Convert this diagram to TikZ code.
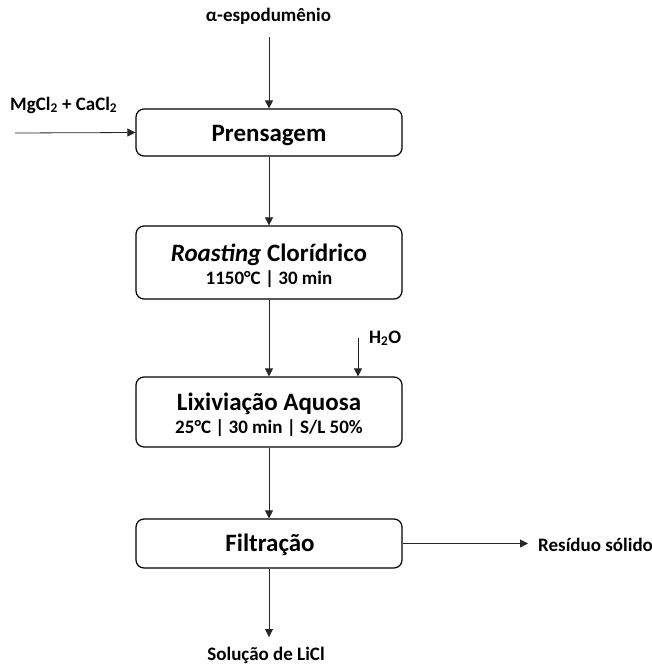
\documentclass[tikz,border=0pt]{standalone}
\usepackage{fontspec}
\setmainfont{Carlito}
\usetikzlibrary{arrows.meta}
\begin{document}
\begin{tikzpicture}[x=1pt,y=-1pt,
  stepbox/.style={draw=black, line width=1.2pt, rounded corners=8pt,
    minimum width=266pt, inner sep=0pt},
  title/.style={font=\bfseries\fontsize{25}{30}\selectfont, inner sep=0pt, anchor=base},
  sub/.style={font=\bfseries\fontsize{19}{23}\selectfont, inner sep=0pt, anchor=base},
  flow/.style={draw=black!85, line width=0.8pt, -{Triangle[length=8pt,width=8pt]}},
  lbl/.style={font=\bfseries\fontsize{19}{23}\selectfont, inner sep=0pt, anchor=base}]
\useasboundingbox (0,0) rectangle (652,667);

% process steps
\node[stepbox, minimum height=47pt] (prensa) at (269,132.5) {};
\node[stepbox, minimum height=73pt] (roast) at (269,262.5) {};
\node[stepbox, minimum height=70pt] (lix) at (269,412) {};
\node[stepbox, minimum height=49pt] (filt) at (269,543.5) {};

% step captions
\node[title] (prensaT) at (269,141.7) {Prensagem};
\node[title] (roastT) at (269,261) {\textit{Roasting} Clorídrico};
\node[sub] (roastS) at (269,284) {1150°C | 30 min};
\node[title] (lixT) at (269,410.7) {Lixiviação Aquosa};
\node[sub] (lixS) at (269,433) {25°C | 30 min | S/L 50\%};
\node[title] (filtT) at (270,551.7) {Filtração};

% feeds and products
\node[lbl] (espod) at (268.5,21) {α-espodumênio};
\node[lbl, anchor=base west] (salts) at (10,110) {MgCl\textsubscript{2} + CaCl\textsubscript{2}};
\node[lbl, anchor=base west] (water) at (369,343) {H\textsubscript{2}O};
\node[lbl, anchor=base west] (resid) at (538,551) {Resíduo sólido};
\node[lbl] (licl) at (266,660.7) {Solução de LiCl};

\coordinate (espodEnd) at (269,37);
\coordinate (saltsEnd) at (15,133);
\coordinate (waterEnd) at (358,338);
\coordinate (residEnd) at (528,543.5);
\coordinate (liclEnd) at (269,637);

% connectors
\draw[flow] (espodEnd) -- (prensa.north);
\draw[flow] (saltsEnd) -- (prensa.west);
\draw[flow] (prensa.south) -- (roast.north);
\draw[flow] (roast.south) -- (lix.north);
\draw[flow] (waterEnd) -- (waterEnd |- lix.north);
\draw[flow] (lix.south) -- (filt.north);
\draw[flow] (filt.east) -- (residEnd);
\draw[flow] (filt.south) -- (liclEnd);
\end{tikzpicture}
\end{document}
